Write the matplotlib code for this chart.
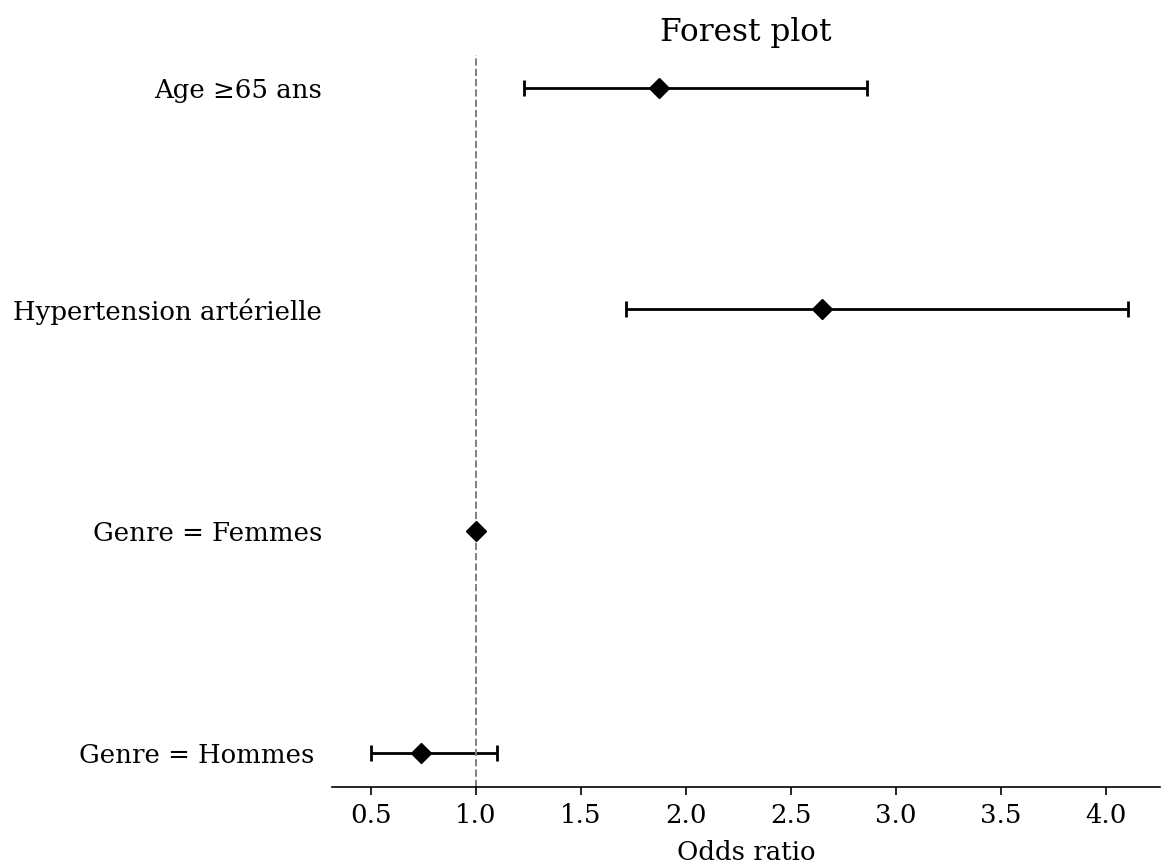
import numpy as np
import matplotlib
matplotlib.use('Agg')
import matplotlib.pyplot as plt

## Data
labels = ['Genre = Hommes ', 'Genre = Femmes', 'Hypertension artérielle', 'Age \u226565 ans']
odds = [0.74, 1.0, 2.65, 1.87]
ci_low = [0.50, 1.0, 1.715, 1.23]
ci_high = [1.10, 1.0, 4.105, 2.86]

plt.rcParams['font.family'] = 'DejaVu Serif'

fig = plt.figure(figsize=(11.61, 8.67), dpi=100)
ax = fig.add_axes([0.286, 0.0923, 0.713, 0.8443])

ypos = np.arange(len(labels))
odds = np.array(odds)
err = np.array([odds - np.array(ci_low), np.array(ci_high) - odds])
ax.errorbar(odds, ypos, xerr=err, fmt='D', color='black', ecolor='black',
            markersize=10.5, capsize=5.5, elinewidth=2, capthick=2)
ax.axvline(1.0, color='gray', linestyle='--', linewidth=1.4)

ax.set_yticks(ypos)
ax.set_yticklabels(labels, fontsize=18.7)
ax.tick_params(axis='y', length=0, pad=7)
ax.tick_params(axis='x', labelsize=18.7, length=5.5, width=1.2, pad=6)
ax.set_xticks(np.arange(0.5, 4.01, 0.5))
ax.set_xlim(0.314, 4.257)
ax.set_ylim(-0.153, 3.147)
ax.set_xlabel('Odds ratio', fontsize=18.7, labelpad=9)
ax.set_title('Forest plot', fontsize=22.5, pad=10)

for s in ['top', 'right', 'left']:
    ax.spines[s].set_visible(False)
ax.spines['bottom'].set_linewidth(1.2)

fig.savefig('out.png', dpi=100)
